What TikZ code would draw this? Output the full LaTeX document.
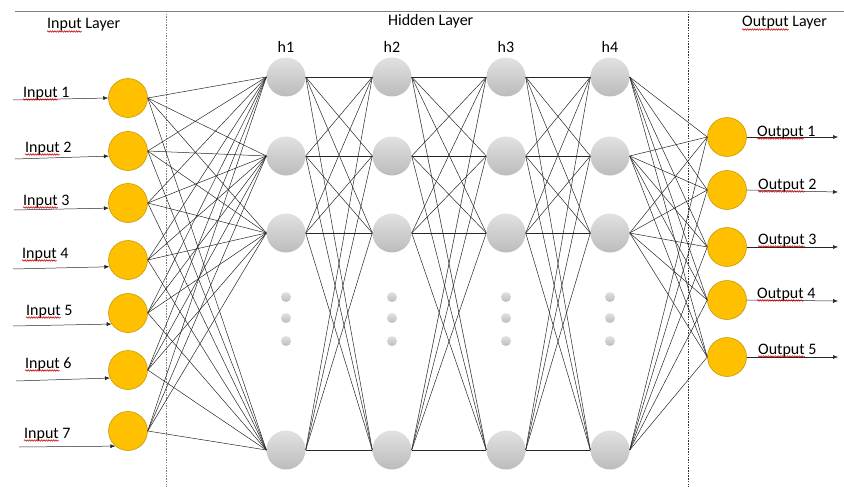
\documentclass[tikz,border=0pt]{standalone}
\usepackage{fontspec}
\setmainfont{Carlito}
\usetikzlibrary{arrows.meta,decorations.pathmorphing}
\definecolor{gold}{HTML}{FFC000}
\definecolor{goldedge}{HTML}{BF9000}
\definecolor{hidtop}{HTML}{E2E2E2}
\definecolor{hidbot}{HTML}{BBBBBB}
\newlength\wIn
\newlength\wOut
\AtBeginDocument{%
  \settowidth\wIn{\fontsize{16}{18}\selectfont Input}%
  \settowidth\wOut{\fontsize{16}{18}\selectfont Output}}
\begin{document}
\begin{tikzpicture}[x=1pt,y=-1pt,
  inp/.style={circle,draw=goldedge,line width=0.5pt,fill=gold,minimum size=39pt,inner sep=0pt},
  hid/.style={circle,minimum size=39pt,inner sep=0pt,shading=axis,top color=hidtop,bottom color=hidbot,draw=none},
  dotn/.style={circle,minimum size=10pt,inner sep=0pt,shading=axis,top color=hidtop,bottom color=hidbot,draw=none},
  wire/.style={line width=0.5pt,black!85},
  arr/.style={wire,-{Latex[length=5pt,width=4pt]}},
  lbl/.style={font=\fontsize{16}{18}\selectfont,inner sep=0pt,anchor=base west},
  hlbl/.style={font=\fontsize{16}{18}\selectfont,inner sep=0pt,anchor=base},
  squig/.style={red!80!black,line width=0.55pt,decorate,decoration={snake,amplitude=0.75pt,segment length=2.4pt}},
  sep/.style={line width=0.5pt,dash pattern=on 1.5pt off 1.2pt}
]
\useasboundingbox (0,0) rectangle (844,487);

% frame lines
\coordinate (tl) at (15,11);
\coordinate (tr) at (844,11);
\draw[gray,line width=0.7pt] (tl) -- (tr);
\coordinate (d1t) at (166,11);
\coordinate (d1b) at (166,487);
\coordinate (d2t) at (688,11);
\coordinate (d2b) at (688,487);
\draw[sep,gray] (d1t) -- (d1b);
\draw[sep,black!80] (d2t) -- (d2b);

% headers
\node[lbl] (hIn) at (47,29) {Input Layer};
\node[lbl] (hHid) at (388,26) {Hidden Layer};
\node[lbl] (hOut) at (742,27) {Output Layer};
\draw[squig] ([yshift=-2.5pt]hIn.base west) -- ([yshift=-2.5pt,xshift=\wIn]hIn.base west);
\draw[squig] ([yshift=-2.5pt]hOut.base west) -- ([yshift=-2.5pt,xshift=\wOut]hOut.base west);

% input nodes
\foreach \i/\y in {1/98,2/151,3/203,4/260,5/313,6/370,7/431}
  \node[inp] (in\i) at (128,\y) {};

% hidden nodes
\foreach \c/\x in {1/286,2/392,3/506,4/610}{
  \foreach \r/\y in {1/77,2/156,3/233,4/450}
    \node[hid] (h\c\r) at (\x,\y) {};
  \foreach \k/\y in {1/297,2/318,3/341}
    \node[dotn] (dot\c\k) at (\x,\y) {};
  \node[hlbl] (hl\c) at (\x,53) {h\c};
}

% output nodes
\foreach \i/\y in {1/137,2/190,3/247,4/300,5/357}
  \node[inp] (out\i) at (727,\y) {};

% input arrows and labels
\foreach \i/\sx/\sy/\ang/\lx/\ly in {1/13/100/180/23/97,2/15/159/195/25/152,3/14/210/195/23/205,4/13/269/200/22/258,5/13/326/214/26/315,6/16/381/204/25/368,7/19/447/230/24/438}{
  \coordinate (s\i) at (\sx,\sy);
  \draw[arr] (s\i) -- (in\i.\ang);
  \node[lbl] (il\i) at (\lx,\ly) {Input \i};
  \draw[squig] ([yshift=-2.5pt]il\i.base west) -- ([yshift=-2.5pt,xshift=\wIn]il\i.base west);
}

% output arrows and labels
\foreach \i/\y/\lx/\ly in {1/137/757/136,2/192/758/189,3/247/758/244,4/301/757/298,5/357/758/354}{
  \coordinate (e\i) at (838,\y);
  \draw[arr] (out\i.east) -- (e\i);
  \node[lbl] (ol\i) at (\lx,\ly) {Output \i};
  \draw[squig] ([yshift=-2.5pt]ol\i.base west) -- ([yshift=-2.5pt,xshift=\wOut]ol\i.base west);
}

% connections
\foreach \i in {1,...,7}
  \foreach \j in {1,...,4}
    \draw[wire] (in\i.east) -- (h1\j.west);
\foreach \c/\n in {1/2,2/3,3/4}
  \foreach \i in {1,...,4}
    \foreach \j in {1,...,4}
      \draw[wire] (h\c\i.east) -- (h\n\j.west);
\foreach \i in {1,...,4}
  \foreach \j in {1,...,5}
    \draw[wire] (h4\i.east) -- (out\j.west);
\end{tikzpicture}
\end{document}
